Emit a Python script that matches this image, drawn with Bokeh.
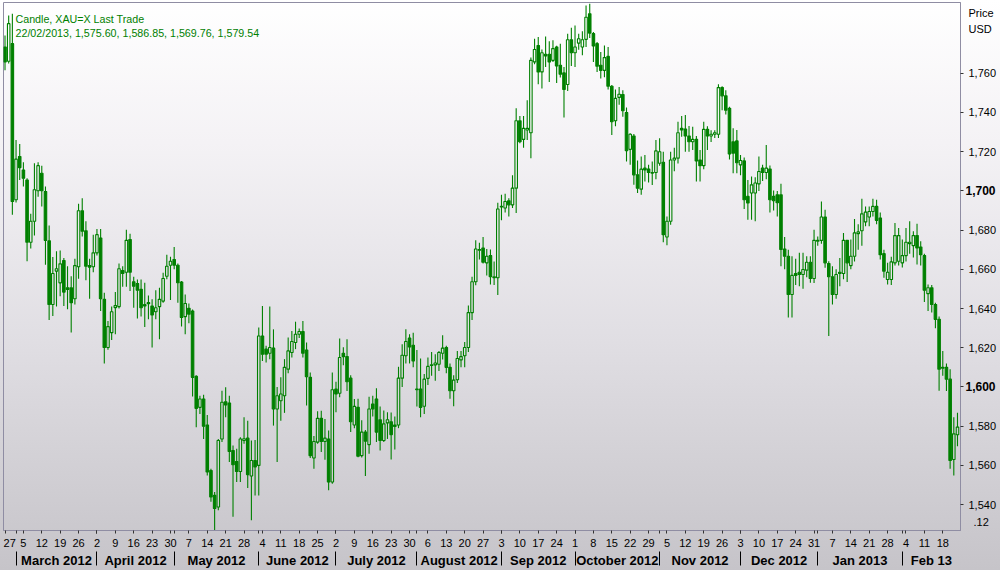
import pandas as pd
from bokeh.plotting import figure
from bokeh.models import Range1d, FixedTicker, LinearAxis, NumeralTickFormatter, Label, ColumnDataSource
from bokeh.embed import file_html
from bokeh.resources import INLINE

# ---------------- data ----------------
trading_days = pd.bdate_range("2012-02-27", "2013-02-22")

open_ = [1773.4, 1766.1, 1775.1, 1695.5, 1717.5, 1710.7, 1705.6, 1673.8, 1684.5, 1700.1,
         1709.0, 1699.7, 1674.6, 1642.1, 1659.1, 1653.1, 1664.5, 1650.6, 1650.6, 1645.0,
         1661.3, 1689.9, 1679.7, 1661.9, 1661.3, 1668.4, 1676.0, 1644.7, 1620.1, 1627.7,
         1640.5, 1641.0, 1659.4, 1658.5, 1675.2, 1653.7, 1652.8, 1649.8, 1642.0, 1643.0,
         1641.3, 1638.4, 1641.0, 1643.8, 1656.5, 1662.1, 1665.0, 1662.1, 1653.5, 1635.9,
         1640.1, 1638.7, 1605.4, 1589.6, 1593.9, 1580.6, 1557.4, 1544.7, 1538.8, 1573.5,
         1592.5, 1591.8, 1567.6, 1562.0, 1556.9, 1572.7, 1573.9, 1554.6, 1562.5, 1560.0,
         1626.0, 1619.3, 1617.2, 1619.8, 1588.8, 1593.0, 1595.5, 1609.1, 1617.6, 1622.7,
         1626.9, 1628.3, 1618.8, 1604.9, 1563.8, 1571.9, 1584.0, 1572.2, 1573.5, 1551.5,
         1598.9, 1596.8, 1617.2, 1615.5, 1604.5, 1580.6, 1589.6, 1565.0, 1577.0, 1570.6,
         1591.3, 1593.9, 1583.3, 1572.7, 1581.7, 1582.3, 1580.6, 1580.6, 1604.5, 1615.9,
         1624.9, 1621.3, 1599.0, 1598.9, 1590.2, 1604.4, 1611.0, 1611.3, 1611.6, 1617.2,
         1620.1, 1610.0, 1598.1, 1603.7, 1613.8, 1615.9, 1620.1, 1637.9, 1653.7, 1670.1,
         1670.9, 1663.3, 1667.0, 1655.7, 1655.7, 1691.8, 1691.3, 1695.0, 1692.9, 1701.4,
         1735.8, 1726.3, 1731.1, 1729.7, 1765.8, 1774.2, 1760.7, 1769.7, 1769.7, 1766.6,
         1773.4, 1764.1, 1760.2, 1754.3, 1777.1, 1770.5, 1775.4, 1773.4, 1777.3, 1790.3,
         1780.2, 1775.1, 1764.1, 1761.5, 1768.6, 1753.4, 1735.8, 1747.7, 1749.2, 1740.0,
         1721.2, 1728.0, 1708.2, 1700.9, 1711.6, 1711.2, 1709.1, 1709.4, 1714.1, 1714.6,
         1676.5, 1684.5, 1715.8, 1716.7, 1731.9, 1731.6, 1728.0, 1725.1, 1726.3, 1715.8,
         1712.9, 1731.4, 1728.0, 1728.9, 1728.9, 1752.7, 1748.5, 1742.1, 1725.1, 1725.5,
         1713.3, 1715.3, 1697.2, 1698.9, 1698.9, 1703.6, 1711.6, 1709.4, 1711.2, 1697.2,
         1698.0, 1698.0, 1670.4, 1666.7, 1647.2, 1657.9, 1658.5, 1657.4, 1659.6, 1663.6,
         1655.3, 1674.3, 1674.8, 1686.7, 1663.0, 1656.2, 1647.2, 1658.5, 1657.9, 1674.8,
         1661.9, 1666.7, 1678.2, 1679.7, 1684.2, 1686.7, 1689.5, 1692.1, 1686.2, 1668.0,
         1654.8, 1654.8, 1663.3, 1664.1, 1663.3, 1667.0, 1673.1, 1672.1, 1677.2, 1671.4,
         1667.0, 1647.6, 1650.6, 1642.1, 1634.5, 1610.0, 1610.0, 1604.0, 1563.0, 1575.60]

high = [1779.3, 1789.5, 1790.3, 1726.0, 1723.9, 1714.6, 1706.5, 1688.4, 1714.1, 1714.6,
        1712.9, 1702.2, 1682.3, 1666.3, 1669.2, 1669.6, 1665.8, 1661.6, 1656.5, 1665.4,
        1693.4, 1696.3, 1684.5, 1665.4, 1677.7, 1680.6, 1680.6, 1648.1, 1633.7, 1641.0,
        1648.4, 1663.0, 1661.6, 1680.2, 1678.2, 1656.2, 1654.8, 1654.8, 1653.2, 1646.7,
        1644.7, 1649.4, 1650.6, 1658.2, 1667.5, 1666.4, 1671.4, 1663.0, 1654.0, 1647.2,
        1642.6, 1639.5, 1606.0, 1595.5, 1596.0, 1585.7, 1558.3, 1546.5, 1573.5, 1598.1,
        1599.8, 1595.5, 1570.1, 1568.5, 1574.4, 1584.6, 1582.8, 1572.7, 1573.0, 1630.3,
        1641.3, 1621.0, 1641.0, 1629.4, 1600.0, 1605.0, 1614.2, 1625.2, 1628.6, 1633.3,
        1629.8, 1633.7, 1622.7, 1607.4, 1575.0, 1587.6, 1587.9, 1583.7, 1577.8, 1607.4,
        1602.7, 1624.7, 1620.3, 1624.3, 1606.0, 1593.9, 1594.0, 1583.0, 1578.0, 1595.0,
        1595.5, 1599.4, 1590.0, 1588.0, 1587.1, 1587.0, 1585.0, 1610.3, 1621.8, 1629.4,
        1626.9, 1627.7, 1618.9, 1614.5, 1606.6, 1615.0, 1617.9, 1616.7, 1618.4, 1626.4,
        1621.0, 1612.0, 1606.0, 1618.4, 1618.4, 1623.0, 1641.6, 1656.2, 1674.8, 1673.5,
        1676.5, 1670.4, 1670.1, 1664.0, 1694.0, 1698.0, 1698.5, 1696.3, 1708.0, 1742.1,
        1738.2, 1738.2, 1746.3, 1768.0, 1777.6, 1778.5, 1772.1, 1778.8, 1776.3, 1776.8,
        1774.0, 1775.1, 1763.2, 1780.2, 1783.2, 1784.4, 1780.2, 1781.5, 1794.6, 1795.4,
        1781.0, 1776.0, 1770.8, 1774.2, 1773.4, 1754.0, 1751.7, 1753.0, 1751.4, 1742.6,
        1729.4, 1729.0, 1715.5, 1717.5, 1718.3, 1713.3, 1715.0, 1726.0, 1726.8, 1720.0,
        1687.0, 1720.0, 1722.0, 1735.3, 1738.2, 1738.7, 1733.1, 1732.7, 1728.0, 1720.9,
        1735.3, 1733.0, 1731.0, 1731.0, 1754.4, 1753.4, 1751.4, 1742.9, 1732.0, 1731.1,
        1718.3, 1717.0, 1705.6, 1707.3, 1707.0, 1717.5, 1713.3, 1723.4, 1713.0, 1700.2,
        1700.0, 1703.6, 1676.5, 1670.0, 1666.7, 1665.4, 1668.4, 1668.4, 1666.7, 1666.7,
        1680.2, 1676.8, 1694.6, 1690.4, 1664.1, 1661.6, 1660.0, 1665.8, 1678.6, 1675.0,
        1675.2, 1685.7, 1683.0, 1696.0, 1692.0, 1692.0, 1696.0, 1695.5, 1689.0, 1670.0,
        1663.3, 1666.4, 1683.6, 1681.1, 1675.2, 1681.1, 1684.5, 1679.4, 1683.3, 1674.3,
        1668.0, 1652.3, 1652.0, 1643.0, 1636.0, 1618.4, 1612.0, 1609.1, 1584.6, 1586.85]

low = [1761.5, 1765.0, 1687.9, 1694.1, 1705.6, 1702.2, 1664.1, 1670.6, 1677.3, 1697.0,
       1692.1, 1662.4, 1634.2, 1636.2, 1641.0, 1646.3, 1641.3, 1639.6, 1627.8, 1642.1,
       1655.2, 1676.8, 1654.5, 1645.0, 1658.5, 1667.0, 1638.7, 1612.0, 1619.0, 1624.0,
       1626.9, 1640.0, 1651.1, 1651.1, 1648.9, 1640.4, 1634.9, 1636.0, 1630.6, 1634.5,
       1620.1, 1634.5, 1624.3, 1643.0, 1655.0, 1644.3, 1660.0, 1643.0, 1630.8, 1626.9,
       1632.5, 1595.2, 1579.5, 1586.2, 1573.5, 1554.9, 1541.4, 1526.9, 1537.1, 1572.0,
       1584.6, 1561.7, 1533.8, 1551.5, 1551.5, 1571.0, 1548.5, 1532.0, 1544.7, 1544.7,
       1613.3, 1612.5, 1614.2, 1580.3, 1561.7, 1582.8, 1586.8, 1607.0, 1615.0, 1619.3,
       1625.0, 1615.0, 1590.5, 1563.8, 1558.3, 1571.0, 1566.8, 1562.9, 1547.3, 1550.7,
       1587.1, 1594.7, 1611.1, 1598.0, 1577.0, 1579.0, 1564.2, 1564.0, 1554.6, 1565.9,
       1585.0, 1571.9, 1567.6, 1571.9, 1573.5, 1563.0, 1568.1, 1579.0, 1600.0, 1612.0,
       1612.0, 1610.0, 1590.0, 1584.6, 1586.2, 1601.0, 1605.7, 1603.2, 1608.2, 1614.0,
       1607.0, 1594.0, 1590.2, 1602.0, 1610.0, 1610.0, 1617.9, 1634.2, 1651.9, 1665.0,
       1663.0, 1656.9, 1652.3, 1652.0, 1646.9, 1685.0, 1689.0, 1687.0, 1691.3, 1688.7,
       1724.3, 1722.0, 1726.0, 1716.7, 1764.6, 1754.4, 1752.2, 1763.2, 1755.6, 1765.8,
       1755.1, 1757.8, 1737.5, 1751.0, 1763.7, 1763.2, 1772.0, 1769.2, 1773.4, 1778.0,
       1765.8, 1760.7, 1757.3, 1758.0, 1751.7, 1728.5, 1733.0, 1744.0, 1737.8, 1715.0,
       1713.3, 1703.1, 1698.9, 1698.0, 1704.8, 1704.3, 1703.0, 1706.0, 1712.9, 1673.8,
       1672.3, 1682.8, 1710.0, 1714.0, 1727.6, 1720.0, 1720.0, 1720.9, 1704.8, 1704.8,
       1711.0, 1720.9, 1725.0, 1727.0, 1727.0, 1741.2, 1739.0, 1716.0, 1709.0, 1709.0,
       1708.0, 1690.8, 1685.3, 1685.3, 1684.5, 1700.0, 1705.0, 1706.0, 1689.0, 1690.0,
       1687.0, 1661.6, 1660.0, 1635.4, 1635.4, 1652.0, 1651.4, 1650.1, 1656.0, 1653.2,
       1653.0, 1672.0, 1673.0, 1660.8, 1626.0, 1642.1, 1645.0, 1651.4, 1655.0, 1653.5,
       1660.0, 1664.0, 1670.0, 1672.0, 1682.0, 1682.0, 1687.0, 1683.0, 1665.0, 1655.7,
       1652.3, 1652.0, 1662.0, 1662.0, 1661.0, 1664.0, 1668.0, 1666.0, 1662.5, 1662.0,
       1643.3, 1638.7, 1638.0, 1630.0, 1598.1, 1605.7, 1598.0, 1558.3, 1554.9, 1569.76]

close = [1765.8, 1785.3, 1694.6, 1716.2, 1711.9, 1706.5, 1673.8, 1684.5, 1700.6, 1712.9,
         1700.1, 1674.8, 1642.1, 1657.9, 1660.3, 1662.8, 1648.4, 1649.8, 1643.0, 1661.9,
         1689.9, 1679.4, 1661.6, 1661.1, 1668.4, 1677.7, 1645.0, 1620.1, 1630.8, 1638.4,
         1641.5, 1660.3, 1657.9, 1674.8, 1658.5, 1651.4, 1649.4, 1640.4, 1641.3, 1642.5,
         1636.7, 1640.4, 1644.7, 1655.3, 1661.6, 1664.1, 1662.1, 1653.2, 1635.4, 1642.6,
         1637.1, 1604.9, 1589.1, 1593.9, 1580.0, 1556.6, 1543.9, 1538.0, 1572.7, 1592.2,
         1590.8, 1567.1, 1560.3, 1556.9, 1573.5, 1573.6, 1555.3, 1562.5, 1559.2, 1626.0,
         1616.7, 1616.7, 1620.1, 1588.8, 1595.5, 1596.4, 1610.0, 1618.4, 1623.2, 1626.9,
         1628.3, 1617.2, 1605.2, 1565.0, 1572.2, 1584.0, 1572.2, 1573.9, 1551.5, 1598.6,
         1596.4, 1615.0, 1615.5, 1602.7, 1582.3, 1590.1, 1564.7, 1577.0, 1572.4, 1588.8,
         1588.8, 1577.0, 1572.7, 1581.2, 1583.3, 1575.7, 1579.9, 1604.5, 1616.2, 1623.2,
         1620.4, 1613.3, 1598.6, 1589.6, 1604.0, 1610.5, 1611.3, 1612.2, 1617.6, 1619.8,
         1610.0, 1598.1, 1603.5, 1614.5, 1615.5, 1620.1, 1637.9, 1653.7, 1670.4, 1669.7,
         1663.6, 1666.7, 1656.2, 1656.2, 1690.8, 1692.1, 1694.6, 1692.9, 1701.4, 1735.8,
         1725.1, 1731.9, 1731.9, 1766.6, 1772.1, 1760.7, 1770.5, 1768.8, 1765.8, 1772.6,
         1763.7, 1759.5, 1751.7, 1777.1, 1770.5, 1773.4, 1777.6, 1777.1, 1788.6, 1780.5,
         1773.9, 1763.6, 1761.5, 1768.0, 1753.4, 1735.3, 1747.2, 1749.3, 1740.9, 1720.5,
         1728.9, 1708.2, 1701.4, 1711.1, 1710.7, 1709.4, 1709.4, 1720.4, 1720.0, 1677.7,
         1684.5, 1715.8, 1716.7, 1729.7, 1731.1, 1728.0, 1725.1, 1726.3, 1715.3, 1712.9,
         1731.4, 1728.0, 1728.9, 1729.7, 1752.7, 1748.5, 1741.2, 1718.8, 1719.2, 1714.4,
         1715.5, 1695.5, 1693.8, 1703.1, 1704.0, 1709.9, 1709.4, 1711.6, 1695.5, 1695.0,
         1694.0, 1670.1, 1666.7, 1647.2, 1656.9, 1656.9, 1657.4, 1659.9, 1663.6, 1655.3,
         1674.8, 1674.8, 1686.7, 1663.3, 1656.2, 1647.2, 1657.4, 1657.9, 1674.8, 1663.3,
         1666.7, 1678.6, 1679.1, 1688.3, 1689.2, 1689.5, 1692.1, 1685.0, 1667.5, 1659.0,
         1658.5, 1663.8, 1677.2, 1677.2, 1667.0, 1673.8, 1673.8, 1677.2, 1670.9, 1667.5,
         1649.4, 1650.6, 1642.1, 1634.5, 1609.1, 1609.6, 1604.0, 1562.5, 1576.1, 1579.54]

month_names = ["March 2012", "April 2012", "May 2012", "June 2012", "July 2012",
               "August 2012", "Sep 2012", "October 2012", "Nov 2012", "Dec 2012",
               "Jan 2013", "Feb 13"]
price_ticks = [1540, 1560, 1580, 1600, 1620, 1640, 1660, 1680, 1700, 1720, 1740, 1760]
bold_ticks = [1600, 1700]
title_line1 = "Candle, XAU=X Last Trade"
title_line2 = "22/02/2013, 1,575.60, 1,586.85, 1,569.76, 1,579.54"
unit_texts = ["Price", "USD"]
scale_text = ".12"

# ---------------- style ----------------
GREEN = "#008000"
FRAME = "#8f8da3"
FONT = "Liberation Sans"

n = len(trading_days)
idx = list(range(n))
x0, x1 = -0.41, (n - 1) + 0.82
y0, y1 = 1526.8, 1796.1
W, H = 1000, 570
FL, FT, FR, FB = 3, 2, 960, 532          # frame edges in page pixels
xpx = (FR - FL) / (x1 - x0)
ypx = (FB - FT) / (y1 - y0)


def px_x(px):
    return x0 + (px - FL) / xpx


def px_y(py):
    return round(y1 - (py - FT) / ypx, 2)


body_top = [max(o, c) for o, c in zip(open_, close)]
body_bot = [min(o, c) for o, c in zip(open_, close)]
is_up = [c >= o for o, c in zip(open_, close)]

src = ColumnDataSource(dict(x=idx, high=high, low=low, top=body_top, bot=body_bot))
up_src = ColumnDataSource(dict(x=[i for i in idx if is_up[i]],
                               top=[body_top[i] for i in idx if is_up[i]],
                               bot=[body_bot[i] for i in idx if is_up[i]]))
dn_src = ColumnDataSource(dict(x=[i for i in idx if not is_up[i]],
                               top=[body_top[i] for i in idx if not is_up[i]],
                               bot=[body_bot[i] for i in idx if not is_up[i]]))

p = figure(width=W, height=H, x_range=Range1d(x0, x1), y_range=Range1d(y0, y1),
           output_backend="svg", toolbar_location=None, y_axis_location="right",
           min_border_left=FL, min_border_top=FT, min_border_right=W - FR,
           min_border_bottom=H - FB)
p.styles = {"background": "linear-gradient(180deg, #ffffff 0%, #f4f2f5 25%, #e0dee3 60%, #c6c4c9 100%)"}
p.background_fill_alpha = 0
p.border_fill_alpha = 0
p.outline_line_color = FRAME
p.outline_line_width = 1
p.xgrid.visible = False
p.ygrid.visible = False

# wicks (above and below the body)
p.segment(x0="x", y0="top", x1="x", y1="high", source=src, line_color=GREEN, line_width=1.1)
p.segment(x0="x", y0="low", x1="x", y1="bot", source=src, line_color=GREEN, line_width=1.1)
# bodies: hollow for up days, filled for down days
p.vbar(x="x", top="top", bottom="bot", width=0.68, source=up_src,
       fill_alpha=0, line_color=GREEN, line_width=1.1)
p.vbar(x="x", top="top", bottom="bot", width=0.68, source=dn_src,
       fill_color=GREEN, line_color=GREEN, line_width=1.1)

# ---------------- y axes (right) ----------------
# axis 1 (next to the frame): tick marks + the bold round-hundred labels
yb = p.yaxis[0]
yb.ticker = FixedTicker(ticks=bold_ticks, minor_ticks=price_ticks)
yb.formatter = NumeralTickFormatter(format="0,0")
yb.axis_line_color = FRAME
yb.major_tick_out = 0
yb.major_tick_in = 0
yb.minor_tick_out = 3
yb.minor_tick_in = 0
yb.minor_tick_line_color = "#333333"
yb.major_label_standoff = 2
yb.major_label_text_font = FONT
yb.major_label_text_font_size = "12px"
yb.major_label_text_font_style = "bold"
yb.major_label_text_color = "black"

# axis 2: the other price labels and the "Price / USD" caption,
# pulled back (negative standoff) so they line up with axis 1's labels
caption_pos = [px_y(13), px_y(28.5)]
scale_pos = px_y(523.5)
normal_ticks = [t for t in price_ticks if t not in bold_ticks]
yn = LinearAxis(ticker=FixedTicker(ticks=normal_ticks + caption_pos, minor_ticks=[]),
                formatter=NumeralTickFormatter(format="0,0"))
yn.major_label_overrides = {pos: txt for pos, txt in zip(caption_pos, unit_texts)}
yn.axis_line_color = None
yn.major_tick_line_color = None
yn.minor_tick_line_color = None
yn.major_tick_out = 0
yn.major_tick_in = 0
yn.minor_tick_out = 0
yn.minor_tick_in = 0
yn.major_label_standoff = -30
yn.major_label_text_font = FONT
yn.major_label_text_font_size = "11px"
yn.major_label_text_color = "black"
p.add_layout(yn, "right")

# axis 3: the boxed ".12" tag
ys = LinearAxis(ticker=FixedTicker(ticks=[scale_pos], minor_ticks=[]))
ys.major_label_overrides = {scale_pos: scale_text}
ys.axis_line_color = None
ys.major_tick_line_color = None
ys.minor_tick_line_color = None
ys.major_tick_out = 0
ys.major_tick_in = 0
ys.minor_tick_out = 0
ys.minor_tick_in = 0
ys.major_label_standoff = -26
ys.major_label_text_font = FONT
ys.major_label_text_font_size = "11px"
ys.major_label_text_color = "black"
_props = ys.properties()
if "major_label_border_line_color" in _props:
    ys.major_label_border_line_color = "black"
if "major_label_padding" in _props:
    ys.major_label_padding = 1
p.add_layout(ys, "right")

# ---------------- x axes (day numbers, months) ----------------
mondays = [i for i, d in enumerate(trading_days) if d.weekday() == 0]
month_starts = [i for i in idx if i > 0 and trading_days[i].month != trading_days[i - 1].month]
bounds = month_starts + [x1]
month_centers = [round((bounds[k] + bounds[k + 1]) / 2, 2) for k in range(len(month_starts))]

day_labels = {i: str(trading_days[i].day) for i in mondays}
day_labels[mondays[0]] = "\u00a0" + day_labels[mondays[0]]

xax = p.xaxis[0]
xax.ticker = FixedTicker(ticks=mondays, minor_ticks=month_starts)
xax.major_label_overrides = day_labels
xax.axis_line_color = FRAME
xax.major_tick_out = 3
xax.major_tick_in = 0
xax.minor_tick_out = 3
xax.minor_tick_in = 0
xax.major_tick_line_color = "#333333"
xax.minor_tick_line_color = "#333333"
xax.major_label_standoff = 3
xax.major_label_text_font = FONT
xax.major_label_text_font_size = "11px"
xax.major_label_text_color = "black"

max_ = LinearAxis(ticker=FixedTicker(ticks=month_centers, minor_ticks=month_starts))
max_.major_label_overrides = {c: name for c, name in zip(month_centers, month_names)}
max_.axis_line_color = None
max_.major_tick_line_color = None
max_.major_tick_out = 0
max_.major_tick_in = 0
max_.minor_tick_out = 14
max_.minor_tick_in = 0
max_.minor_tick_line_color = "black"
max_.major_label_standoff = -13
max_.major_label_text_font = FONT
max_.major_label_text_font_size = "13px"
max_.major_label_text_font_style = "bold"
max_.major_label_text_color = "black"
p.add_layout(max_, "below")

# ---------------- header texts (inside the plot frame) ----------------
p.add_layout(Label(x=px_x(15), y=px_y(25), text=title_line1, text_font=FONT,
                   text_font_size="10.7px", text_color=GREEN))
p.add_layout(Label(x=px_x(15), y=px_y(38.5), text=title_line2, text_font=FONT,
                   text_font_size="10.7px", text_color=GREEN))

open("out.html", "w").write(file_html(p, INLINE))
